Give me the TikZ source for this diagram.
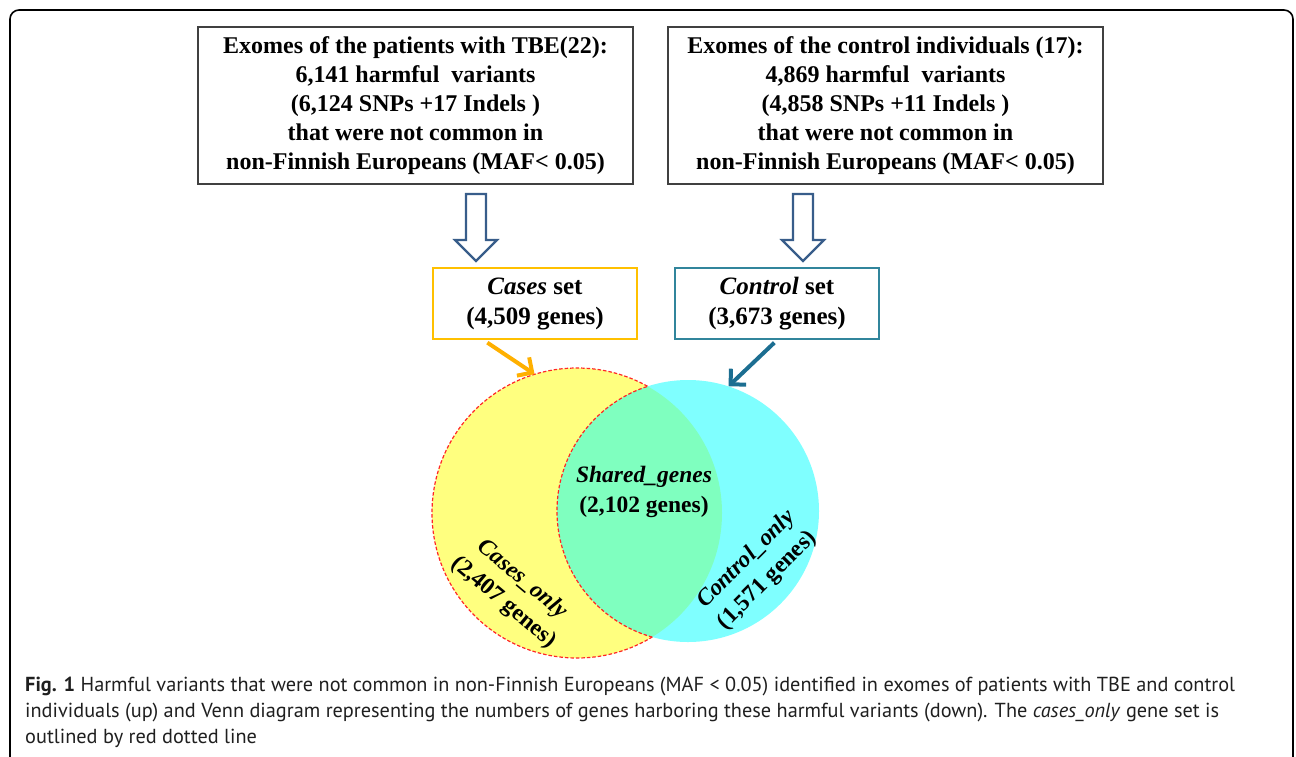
\documentclass[tikz,border=0pt]{standalone}
\usepackage{fontspec}
\setmainfont{Liberation Serif}
\newfontfamily\capfont{PT Sans}
\usetikzlibrary{arrows.meta}
\definecolor{hollowblue}{RGB}{56,93,138}
\definecolor{casesorange}{RGB}{255,192,0}
\definecolor{ctrlblue}{RGB}{49,133,156}
\definecolor{arrorange}{RGB}{255,176,0}
\definecolor{arrblue}{RGB}{28,110,145}
\definecolor{vennyellow}{RGB}{255,255,0}
\definecolor{venncyan}{RGB}{0,255,255}
\begin{document}
\begin{tikzpicture}[
	x=1pt, y=-1pt,
	ex/.style={draw=black!75, line width=1.2pt, align=center, inner sep=0pt,
		minimum width=435pt, minimum height=157pt,
		font=\fontsize{24}{29}\selectfont\bfseries},
	sb/.style={line width=1.3pt, align=center, inner sep=0pt,
		minimum width=204pt, minimum height=71pt,
		font=\fontsize{25}{30}\selectfont\bfseries},
	hol/.style={draw=hollowblue, line width=2.2pt, fill=white},
	venn/.style={circle, inner sep=0pt, fill opacity=0.5},
	vt/.style={align=center, font=\fontsize{23.5}{29.5}\selectfont\bfseries},
	redline/.style={draw=red!85, dashed, dash pattern=on 3.5pt off 2pt, line width=1.2pt},
	pt/.style={line width=4pt, -{Straight Barb[length=11pt, width=22pt]}},
	]
\useasboundingbox (0,0) rectangle (1296,756);
\draw[line width=1.6pt, rounded corners=9pt] (10,10) rectangle (1293,780);

% exome boxes
\node[ex] (exT) at (415.5,105.5) {Exomes of the patients with TBE(22):\\
	6,141 harmful\ \ variants\\
	(6,124 SNPs +17 Indels )\\
	that were not common in\\
	non-Finnish Europeans (MAF< 0.05)};
\node[ex] (exC) at (885.5,105.5) {Exomes of the control individuals (17):\\
	4,869 harmful\ \ variants\\
	(4,858 SNPs +11 Indels )\\
	that were not common in\\
	non-Finnish Europeans (MAF< 0.05)};

% hollow arrows
\coordinate (aT) at (476,194);
\coordinate (aC) at (803,194);
\foreach \a in {aT,aC}
	\draw[hol, shift={(\a)}] (-10,0) -- (10,0) -- (10,46) -- (21,46) -- (0,67)
		-- (-21,46) -- (-10,46) -- cycle;

% gene sets
\node[sb, draw=casesorange] (casesSet) at (535,303.5) {\textit{Cases} set\\(4,509 genes)};
\node[sb, draw=ctrlblue] (ctrlSet) at (777,303.5) {\textit{Control} set\\(3,673 genes)};

% venn
\node[venn, fill=vennyellow, minimum size=290pt] (casesC) at (577,513) {};
\node[venn, fill=venncyan, minimum size=262pt] (ctrlC) at (688,511) {};
\begin{scope}
	\clip (casesC.center) circle[radius=145];
	\draw[redline] (ctrlC.center) circle[radius=131];
\end{scope}
\begin{scope}[even odd rule]
	\clip (0,0) rectangle (1296,756) (ctrlC.center) circle[radius=131];
	\draw[redline] (casesC.center) circle[radius=145];
\end{scope}

\draw[pt, draw=arrorange] ([xshift=55pt,yshift=-3pt]casesSet.south west) -- (casesC.107);
\draw[pt, draw=arrblue] ([xshift=100pt,yshift=-3pt]ctrlSet.south west) -- (ctrlC.72);

\node[vt] (sharedT) at (644,492) {\textit{Shared\_genes}\\(2,102 genes)};
\node[vt, rotate=-40] (casesT) at (513,591) {\textit{Cases\_only}\\(2,407 genes)};
\node[vt, rotate=45] (ctrlT) at (757,570) {\textit{Control\_only}\\(1,571 genes)};

% caption
\node[anchor=north west, align=left, inner sep=0pt, text=black!88,
	font=\capfont\fontsize{20.3}{26}\selectfont] (cap) at (25,677)
	{\textbf{Fig. 1} Harmful variants that were not common in non-Finnish Europeans (MAF < 0.05) identified in exomes of patients with TBE and control\\
	individuals (up) and Venn diagram representing the numbers of genes harboring these harmful variants (down). The \textit{cases\_only} gene set is\\
	outlined by red dotted line};
\end{tikzpicture}
\end{document}
